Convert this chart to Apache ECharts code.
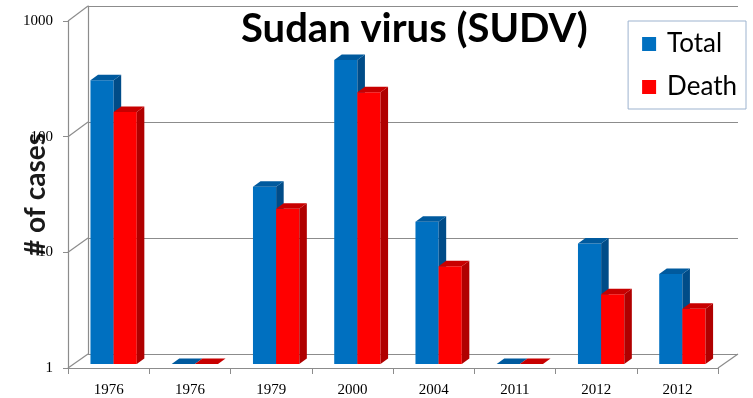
<!DOCTYPE html>
<html>
<head>
<meta charset="utf-8">
<script src="https://cdn.jsdelivr.net/npm/echarts@6/dist/echarts.min.js"></script>
<style>
  html, body { margin: 0; padding: 0; background: #fff; }
  #chart { width: 753px; height: 398px; }
</style>
</head>
<body>
<div id="chart"></div>
<script>
// Sudan virus outbreaks: reported cases and deaths per outbreak year
const categories = ['1976', '1976', '1979', '2000', '2004', '2011', '2012', '2012'];
const totalCases = [284, 1, 34, 425, 17, 1, 11, 6];
const deaths = [151, 1, 22, 224, 7, 1, 4, 3];
const yTicks = [1, 10, 100, 1000];

const BLUE = { front: '#0070C0', side: '#004C88', top: '#005A9E' };
const RED = { front: '#FF0000', side: '#B00000', top: '#C80000' };
const GRID_COLOR = '#8C8C8C';
const serif = '"Liberation Serif", "DejaVu Serif", serif';
const sans = 'Lato, "Open Sans", sans-serif';

// front plane, back wall and the mid-depth plane where the bars stand
const frontGrid = { left: 68, top: 21, width: 650, height: 347 };
const backGrid = { left: 88, top: 6, width: 650, height: 348 };
const barGrid = { left: 73, top: 17, width: 650, height: 347 };

// builds a 3D-looking column: front face, right side face and top cap
function columnRenderer(align, col) {
  return function (params, api) {
    const idx = api.value(0);
    const v = api.value(1);
    const topPt = api.coord([idx, v]);
    const basePt = api.coord([idx, 1]);
    const cw = api.size([1, 0])[0];
    const w = cw * 0.285;
    const x0 = align < 0 ? topPt[0] - w : topPt[0];
    const x1 = x0 + w;
    const dx = cw * 0.093, dy = -cw * 0.068;
    const yT = topPt[1], yB = basePt[1];
    const children = [];
    if (yB - yT > 0.5) {
      children.push({
        type: 'rect',
        shape: { x: x0, y: yT, width: w, height: yB - yT },
        style: { fill: col.front }
      });
      children.push({
        type: 'polygon',
        shape: { points: [[x1, yT], [x1 + dx, yT + dy], [x1 + dx, yB + dy], [x1, yB]] },
        style: { fill: col.side }
      });
    }
    children.push({
      type: 'polygon',
      shape: { points: [[x0, yT], [x0 + dx, yT + dy], [x1 + dx, yT + dy], [x1, yT]] },
      style: { fill: col.top }
    });
    return { type: 'group', children: children };
  };
}

const chart = echarts.init(document.getElementById('chart'), null, { renderer: 'canvas' });

const option = {
  animation: false,
  backgroundColor: '#ffffff',
  title: {
    text: 'Sudan virus (SUDV)',
    left: 236,
    top: 4,
    textStyle: { fontFamily: sans, fontSize: 40, fontWeight: 'bold', color: '#000' }
  },
  legend: {
    orient: 'vertical',
    right: 7,
    top: 21,
    padding: [10, 9, 9, 14],
    itemGap: 17,
    itemWidth: 14,
    itemHeight: 14,
    icon: 'rect',
    borderColor: '#9DB3CF',
    borderWidth: 1,
    textStyle: { fontFamily: sans, fontSize: 26, color: '#000', padding: [0, 0, 0, 6] },
    data: ['Total', 'Death']
  },
  grid: [
    Object.assign({}, frontGrid),
    Object.assign({}, backGrid),
    Object.assign({}, barGrid)
  ],
  xAxis: [
    {
      gridIndex: 0, type: 'category', data: categories,
      axisLine: { lineStyle: { color: GRID_COLOR, width: 1.2 } },
      axisTick: { show: true, length: 6, lineStyle: { color: GRID_COLOR } },
      axisLabel: { margin: 15, fontFamily: serif, fontSize: 15, color: '#000' },
      splitLine: { show: false }
    },
    {
      gridIndex: 1, type: 'category', data: categories,
      axisLine: { show: false }, axisTick: { show: false }, axisLabel: { show: false },
      splitLine: { show: false }
    },
    {
      gridIndex: 2, type: 'category', data: categories, show: false
    }
  ],
  yAxis: [
    {
      gridIndex: 0, type: 'log', logBase: 10, min: 1, max: 1000,
      name: '# of cases', nameLocation: 'middle', nameGap: 18, nameRotate: 90,
      nameMoveOverlap: false,
      nameTextStyle: { fontFamily: sans, fontSize: 28, fontWeight: 'bold', color: '#1a1a1a' },
      axisLine: { show: true, lineStyle: { color: GRID_COLOR, width: 1.2 } },
      axisTick: { show: true, length: 5, lineStyle: { color: GRID_COLOR } },
      axisLabel: {
        margin: 15, fontFamily: serif, fontSize: 15, color: '#000',
        formatter: function (v) { return String(Math.round(v)); }
      },
      splitLine: { show: false }
    },
    {
      gridIndex: 1, type: 'log', logBase: 10, min: 1, max: 1000,
      axisLine: { show: true, lineStyle: { color: GRID_COLOR, width: 1.2 } },
      axisTick: { show: false }, axisLabel: { show: false },
      splitLine: { show: true, lineStyle: { color: GRID_COLOR, width: 1.2 } }
    },
    {
      gridIndex: 2, type: 'log', logBase: 10, min: 1, max: 1000, show: false
    }
  ],
  series: [
    {
      name: 'Total', type: 'custom', xAxisIndex: 2, yAxisIndex: 2,
      itemStyle: { color: BLUE.front },
      renderItem: columnRenderer(-1, BLUE),
      encode: { x: 0, y: 1 },
      data: totalCases.map((v, i) => [i, v]),
      z: 5
    },
    {
      name: 'Death', type: 'custom', xAxisIndex: 2, yAxisIndex: 2,
      itemStyle: { color: RED.front },
      renderItem: columnRenderer(1, RED),
      encode: { x: 0, y: 1 },
      data: deaths.map((v, i) => [i, v]),
      z: 6
    }
  ]
};

chart.setOption(option);

// connect the front plane to the back wall: side wall ticks and floor edge
const edges = [];
yTicks.forEach(function (t) {
  const yf = chart.convertToPixel({ yAxisIndex: 0 }, t);
  const yb = chart.convertToPixel({ yAxisIndex: 1 }, t);
  edges.push({
    type: 'line', z: 1,
    shape: { x1: frontGrid.left, y1: yf, x2: backGrid.left, y2: yb },
    style: { stroke: GRID_COLOR, lineWidth: 1.2 }
  });
});
const yf1 = chart.convertToPixel({ yAxisIndex: 0 }, 1);
const yb1 = chart.convertToPixel({ yAxisIndex: 1 }, 1);
edges.push({
  type: 'line', z: 1,
  shape: { x1: frontGrid.left + frontGrid.width, y1: yf1, x2: backGrid.left + backGrid.width, y2: yb1 },
  style: { stroke: GRID_COLOR, lineWidth: 1.2 }
});
chart.setOption({ graphic: edges });
</script>
</body>
</html>
